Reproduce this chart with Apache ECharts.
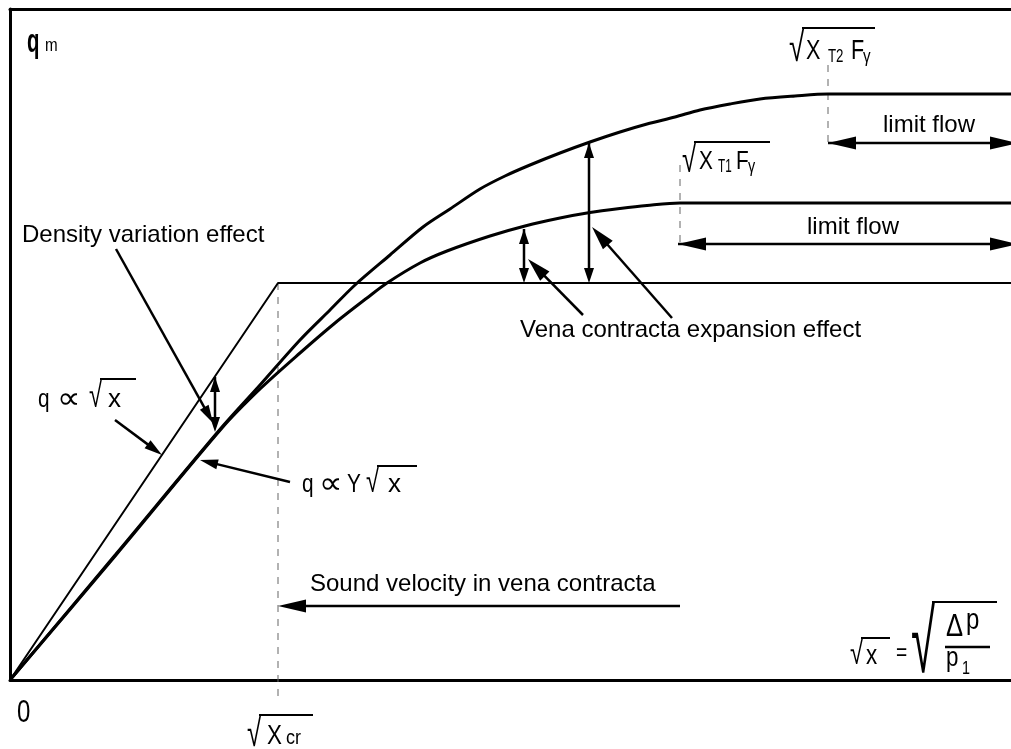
<!DOCTYPE html>
<html>
<head>
<meta charset="utf-8">
<script src="https://cdn.jsdelivr.net/npm/echarts@6/dist/echarts.min.js"></script>
<style>
  html, body { margin: 0; padding: 0; background: #fff; }
  #chart { width: 1011px; height: 749px; }
</style>
</head>
<body>
<div id="chart"></div>
<script>
// values: x = sqrt(x) scale, y = mass flow qm (arbitrary units)
const straightLine = [[0, 0], [268, 397], [1001, 397]]
const upperCurve = [[0, 0], [106, 126], [212, 253], [250, 295], [290, 340], [320, 370], [345, 395], [380, 425],
  [413, 453], [440, 471], [470, 491], [495, 504], [520, 515], [550, 527], [580, 538], [610, 548], [637, 556],
  [665, 563], [690, 570], [720, 576], [750, 581], [785, 584], [818, 586], [1001, 586]]
const lowerCurve = [[0, 0], [106, 125], [212, 252], [250, 291], [290, 327], [325, 357], [357, 382], [377, 397],
  [410, 417], [437, 429], [480, 444], [515, 454], [550, 462], [580, 467.5], [610, 471.5], [637, 474.5],
  [670, 477], [1001, 477]]

// dashed guides at sqrt(xcr), sqrt(xT1 Fy), sqrt(xT2 Fy)
const guideCr = [[268, 397], [268, -20]]
const guideT1 = [[670, 515], [670, 432]]
const guideT2 = [[818, 615], [818, 533]]

// arrows: [x1, y1, x2, y2], head at the second point
const limitFlowArrows = [[818, 537, 1008, 537], [668, 436, 1008, 436]]
const soundArrow = [[670, 74, 268, 74]]
const gapArrows = [[514, 451, 514, 397], [579, 537, 579, 397], [205, 303, 205, 248]]
const venaPointers = [[573, 365, 518, 421], [662, 362, 582, 453]]
const smallPointers = [[106, 431, 203, 257], [105, 260, 152, 225], [280, 198, 190, 220]]

const FONT = "'Liberation Sans', Arial, 'DejaVu Sans', sans-serif"

const chart = echarts.init(document.getElementById('chart'))

const arrowRender = (headLen, headW, both) => (params, api) => {
  const a = api.coord([api.value(0), api.value(1)])
  const b = api.coord([api.value(2), api.value(3)])
  const dx = b[0] - a[0]
  const dy = b[1] - a[1]
  const len = Math.hypot(dx, dy)
  const ux = dx / len
  const uy = dy / len
  const nx = -uy
  const ny = ux
  const head = (t, sx, sy) => ({
    type: 'polygon',
    shape: {
      points: [
        [t[0], t[1]],
        [t[0] - sx * headLen + nx * headW, t[1] - sy * headLen + ny * headW],
        [t[0] - sx * headLen - nx * headW, t[1] - sy * headLen - ny * headW],
      ],
    },
    style: { fill: '#000' },
  })
  const children = [
    {
      type: 'line',
      shape: { x1: a[0], y1: a[1], x2: b[0] - ux * headLen * 0.5, y2: b[1] - uy * headLen * 0.5 },
      style: { stroke: '#000', lineWidth: 2.5 },
    },
    head(b, ux, uy),
  ]
  if (both) children.push(head(a, -ux, -uy))
  return { type: 'group', children }
}

const arrowSeries = (data, headLen, headW, both) => ({
  type: 'custom',
  data: data,
  encode: { x: [0, 2], y: [1, 3] },
  renderItem: arrowRender(headLen, headW, both),
  silent: true,
  clip: false,
  z: 5,
})

const lineSeries = (data, width, smooth) => ({
  type: 'line',
  data: data,
  symbol: 'none',
  smooth: smooth,
  lineStyle: { color: '#000', width: width },
  silent: true,
  z: 4,
})

const dashSeries = (data) => ({
  type: 'line',
  data: data,
  symbol: 'none',
  clip: false,
  lineStyle: { color: '#666', width: 1, type: [7, 7] },
  silent: true,
  z: 3,
})

// text helpers (baseline given in pixels)
const txt = (text, x, base, size, sx, weight) => ({
  type: 'text',
  x: x,
  y: base - 0.31 * size,
  scaleX: sx || 1,
  silent: true,
  style: {
    text: text,
    fontSize: size,
    fontFamily: FONT,
    fontWeight: weight || 'normal',
    fill: '#000',
    align: 'left',
    verticalAlign: 'middle',
  },
})
const bar = (x1, x2, y, w) => ({
  type: 'line',
  silent: true,
  shape: { x1: x1, y1: y, x2: x2, y2: y },
  style: { stroke: '#000', lineWidth: w || 2 },
})
// radical sign as text, sized so its top meets the bar over the radicand
const root = (x, base, overY, overEnd, width) => {
  const size = (base - overY) / 0.81
  return [txt('\u221A', x, base, size, width / (0.5 * size)), bar(x + width - 1, overEnd, overY)]
}

const labels = [
  txt('q', 27, 53, 34, 0.6, 'bold'),
  txt('m', 45, 52, 19, 0.8),
  txt('Density variation effect', 22, 243, 24),

  txt('q', 38, 408, 26, 0.8), txt('\u221D', 57, 409, 30, 1.1),
  ...root(89, 408, 379, 136, 12), txt('x', 108, 408, 26),

  txt('q', 302, 493, 26, 0.8), txt('\u221D', 319, 494, 30, 1.1), txt('Y', 347, 493, 26, 0.8),
  ...root(366, 493, 466, 417, 12), txt('x', 388, 493, 26),

  txt('Sound velocity in vena contracta', 310, 592, 24),
  txt('Vena contracta expansion effect', 520, 338, 24),
  txt('limit flow', 883, 133, 24),
  txt('limit flow', 807, 235, 24),

  ...root(789, 62, 28, 875, 14), txt('X', 806, 60, 27, 0.8), txt('T2', 828, 63, 19, 0.7),
  txt('F', 851, 60, 27, 0.8), txt('\u03B3', 863, 63, 19, 0.8),

  ...root(682, 173, 142, 770, 13), txt('X', 699, 170, 26, 0.8), txt('T1', 718, 173, 18, 0.65),
  txt('F', 736, 170, 26, 0.8), txt('\u03B3', 748, 173, 18, 0.8),

  txt('0', 17, 723, 32, 0.75),
  ...root(247, 747, 715, 313, 13), txt('X', 267, 745, 28, 0.8), txt('cr', 286, 745, 20, 0.9),

  ...root(850, 665, 638, 890, 12), txt('x', 866, 665, 28, 0.8),
  txt('=', 896, 661, 24, 0.8),
  ...root(911, 675, 602, 997, 22),
  txt('\u0394', 946, 637, 32, 0.8), txt('p', 966, 630, 30, 0.8),
  bar(945, 990, 647, 2.5),
  txt('p', 946, 667, 28, 0.8), txt('1', 962, 675, 18, 0.8),
]

const hiddenAxis = {
  type: 'value',
  axisTick: { show: false },
  axisLabel: { show: false },
  splitLine: { show: false },
  axisLine: { show: true, lineStyle: { color: '#000', width: 3 } },
}

const option = {
  animation: false,
  backgroundColor: '#fff',
  grid: { left: 10, right: 0, top: 9, bottom: 69 },
  xAxis: [
    Object.assign({}, hiddenAxis, { min: 0, max: 1001, position: 'bottom' }),
    Object.assign({}, hiddenAxis, { min: 0, max: 1001, position: 'top' }),
  ],
  yAxis: Object.assign({}, hiddenAxis, { min: 0, max: 671, position: 'left' }),
  graphic: labels,
  series: [
    dashSeries(guideCr),
    dashSeries(guideT1),
    dashSeries(guideT2),
    lineSeries(straightLine, 2, false),
    lineSeries(upperCurve, 3, 0.3),
    lineSeries(lowerCurve, 3, 0.3),
    arrowSeries(limitFlowArrows, 28, 6.5, true),
    arrowSeries(soundArrow, 28, 6.5, false),
    arrowSeries(gapArrows, 15, 5, true),
    arrowSeries(venaPointers, 24, 6.5, false),
    arrowSeries(smallPointers, 18, 5, false),
  ],
}

chart.setOption(option)
</script>
</body>
</html>
